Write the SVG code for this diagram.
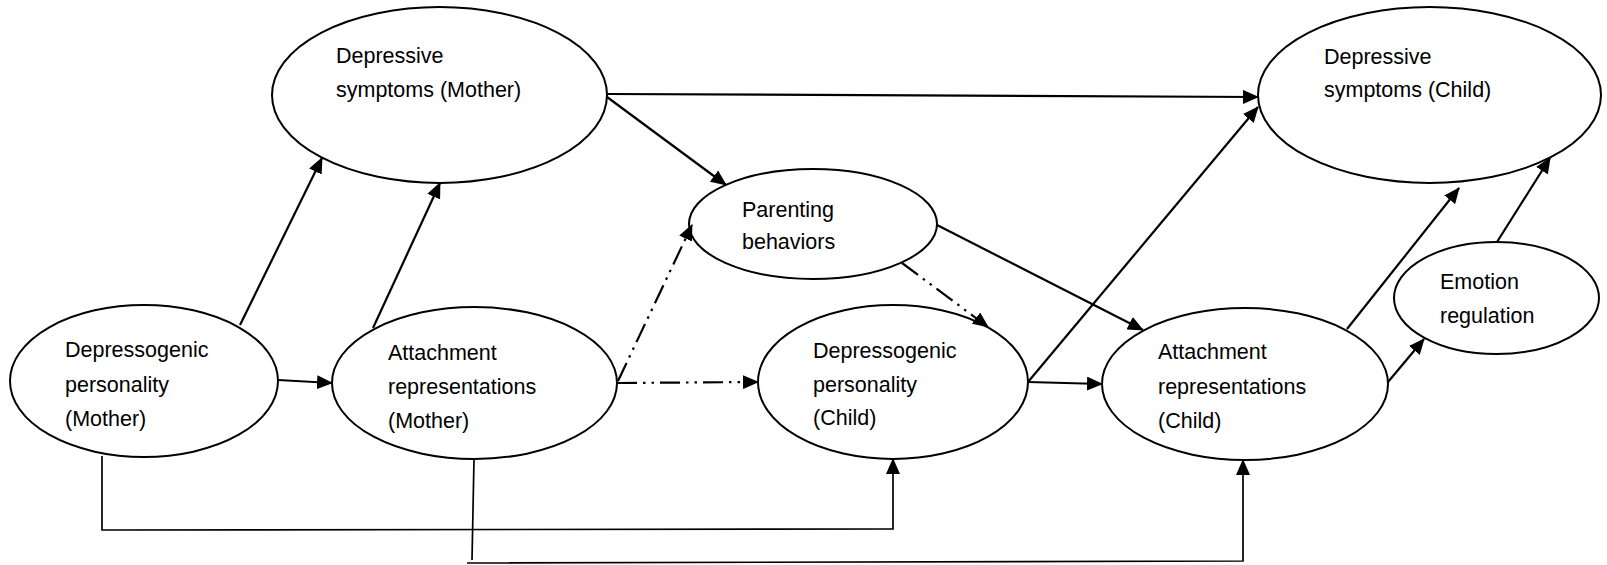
<svg xmlns="http://www.w3.org/2000/svg" width="1607" height="565" viewBox="0 0 1607 565">
  <style>
    .node ellipse { fill: #ffffff; stroke: #000000; stroke-width: 2; }
    .node text { font-family: "Liberation Sans", Arial, sans-serif; font-size: 21.5px; fill: #000000; }
    .edge { fill: none; stroke: #000000; stroke-width: 2.2; }
    .thin { stroke-width: 1.7; }
    .dashdot { stroke-dasharray: 20 6 2.5 6 2.5 6; }
  </style>
  <defs>
    <marker id="arrow" viewBox="0 0 16 14" refX="15" refY="7" markerWidth="16" markerHeight="14" markerUnits="userSpaceOnUse" orient="auto">
      <path d="M0,0 L16,7 L0,14 z" fill="#000000"/>
    </marker>
  </defs>

  <rect x="0" y="0" width="1607" height="565" fill="#ffffff"/>

  <!-- Nodes -->
  <g id="dep-symptoms-mother" class="node">
    <ellipse cx="439.5" cy="95" rx="167.5" ry="88"/>
    <text x="336" y="63">Depressive</text>
    <text x="336" y="97">symptoms (Mother)</text>
  </g>
  <g id="dep-symptoms-child" class="node">
    <ellipse cx="1429.5" cy="95" rx="171.5" ry="88"/>
    <text x="1324" y="64">Depressive</text>
    <text x="1324" y="97">symptoms (Child)</text>
  </g>
  <g id="parenting" class="node">
    <ellipse cx="813" cy="224" rx="124" ry="55"/>
    <text x="742" y="217">Parenting</text>
    <text x="742" y="249">behaviors</text>
  </g>
  <g id="depressogenic-mother" class="node">
    <ellipse cx="144" cy="381" rx="134" ry="76"/>
    <text x="65" y="357">Depressogenic</text>
    <text x="65" y="392">personality</text>
    <text x="65" y="426">(Mother)</text>
  </g>
  <g id="attachment-mother" class="node">
    <ellipse cx="474.5" cy="383" rx="142.5" ry="76"/>
    <text x="388" y="360">Attachment</text>
    <text x="388" y="394">representations</text>
    <text x="388" y="428">(Mother)</text>
  </g>
  <g id="depressogenic-child" class="node">
    <ellipse cx="893" cy="382" rx="135" ry="77"/>
    <text x="813" y="358">Depressogenic</text>
    <text x="813" y="392">personality</text>
    <text x="813" y="425">(Child)</text>
  </g>
  <g id="attachment-child" class="node">
    <ellipse cx="1245" cy="384" rx="143" ry="76"/>
    <text x="1158" y="359">Attachment</text>
    <text x="1158" y="394">representations</text>
    <text x="1158" y="428">(Child)</text>
  </g>
  <g id="emotion-regulation" class="node">
    <ellipse cx="1496.5" cy="298" rx="102.5" ry="56"/>
    <text x="1440" y="289">Emotion</text>
    <text x="1440" y="323">regulation</text>
  </g>

  <!-- Connectors -->
  <g id="connectors">
    <path class="edge" d="M240,325 L322,158" marker-end="url(#arrow)"/>
    <path class="edge" d="M373,328 L440,183" marker-end="url(#arrow)"/>
    <path class="edge" d="M278,380 L332,383" marker-end="url(#arrow)"/>
    <path class="edge" d="M607,94 L1258,97" marker-end="url(#arrow)"/>
    <path class="edge" d="M607,97 L726,185" marker-end="url(#arrow)"/>
    <path class="edge dashdot" d="M618,381 L692,225" marker-end="url(#arrow)"/>
    <path class="edge dashdot" d="M617,383 L758,382" marker-end="url(#arrow)"/>
    <path class="edge dashdot" d="M902,263 L988,327" marker-end="url(#arrow)"/>
    <path class="edge" d="M937,225 L1143,330" marker-end="url(#arrow)"/>
    <path class="edge" d="M1028,382 L1258,107" marker-end="url(#arrow)"/>
    <path class="edge" d="M1028,382 L1102,384" marker-end="url(#arrow)"/>
    <path class="edge" d="M1347,329 L1459,188" marker-end="url(#arrow)"/>
    <path class="edge" d="M1388,382 L1424,339" marker-end="url(#arrow)"/>
    <path class="edge" d="M1497,242 L1550,158" marker-end="url(#arrow)"/>
    <path class="edge thin" d="M102,456 L102,530 L893,529 L893,459" marker-end="url(#arrow)"/>
    <path class="edge thin" d="M474,459 L472,560 M467,563 L1243,561 L1243,460" marker-end="url(#arrow)"/>
  </g>
</svg>
